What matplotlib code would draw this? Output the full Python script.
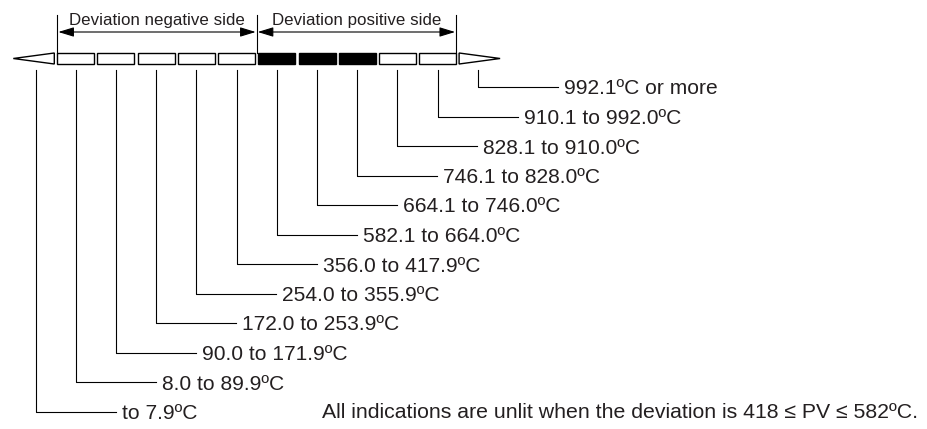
import matplotlib.pyplot as plt
from matplotlib.patches import Rectangle, Polygon

plt.rcParams['font.family'] = ['Liberation Sans', 'DejaVu Sans']

# indicator segments, left to right (triangle, 10 boxes, triangle)
labels = ["to 7.9ºC", "8.0 to 89.9ºC", "90.0 to 171.9ºC", "172.0 to 253.9ºC",
          "254.0 to 355.9ºC", "356.0 to 417.9ºC", "582.1 to 664.0ºC",
          "664.1 to 746.0ºC", "746.1 to 828.0ºC", "828.1 to 910.0ºC",
          "910.1 to 992.0ºC", "992.1ºC or more"]
lit = [False, False, False, False, False, False, True, True, True, False, False, False]
side_titles = ["Deviation negative side", "Deviation positive side"]
note = "All indications are unlit when the deviation is 418 ≤ PV ≤ 582ºC."

W, H = 928, 429
fig = plt.figure(figsize=(W / 100, H / 100), dpi=100)
ax = fig.add_axes([0, 0, 1, 1])
ax.set_xlim(0, W)
ax.set_ylim(H, 0)
ax.axis('off')

x0, pitch, bw = 35.6, 40.2, 37
ytop, ybot = 53, 64
ymid = (ytop + ybot) / 2
n = len(labels)
centers = [x0 + pitch * i for i in range(n)]

# boxes
for i in range(1, n - 1):
    ax.add_patch(Rectangle((centers[i] - bw / 2, ytop), bw, ybot - ytop,
                           facecolor='black' if lit[i] else 'white',
                           edgecolor='black', lw=1.0))
# end triangles
lb = centers[1] - bw / 2 - 3
ax.add_patch(Polygon([(lb, ytop), (lb, ybot), (lb - 41, ymid)], closed=True,
                     facecolor='white', edgecolor='black', lw=1.0))
rb = centers[-2] + bw / 2 + 3
ax.add_patch(Polygon([(rb, ytop), (rb, ybot), (rb + 41, ymid)], closed=True,
                     facecolor='white', edgecolor='black', lw=1.0))

# side brackets
xl = centers[1] - bw / 2
xm = (centers[5] + centers[6]) / 2
xr = centers[-2] + bw / 2
for xv in (xl, xm, xr):
    ax.plot([xv, xv], [15, ytop], color='black', lw=0.8)
for (a, b), t in zip([(xl, xm), (xm, xr)], side_titles):
    ax.annotate('', xy=(b - 1, 32), xytext=(a + 1, 32),
                arrowprops=dict(arrowstyle='<|-|>,head_length=9.5,head_width=2.9',
                                mutation_scale=1, color='black', lw=0.8,
                                shrinkA=0, shrinkB=0))
    ax.text((a + b) / 2, 21, t, ha='center', va='center', fontsize=12.2,
            color='#231f20')

# leaders and labels
row0, rowstep = 87, 29.5
for i, lab in enumerate(labels):
    y = row0 + rowstep * (n - 1 - i)
    cx = centers[i]
    tx = cx + 86
    ax.plot([cx, cx, tx - 6], [70, y, y], color='black', lw=0.8)
    ax.text(tx, y, lab, ha='left', va='center_baseline', fontsize=15.1,
            color='#231f20')

ax.text(322, 411, note, ha='left', va='center_baseline', fontsize=15.3,
        color='#231f20')

fig.savefig('out.png', dpi=100)
